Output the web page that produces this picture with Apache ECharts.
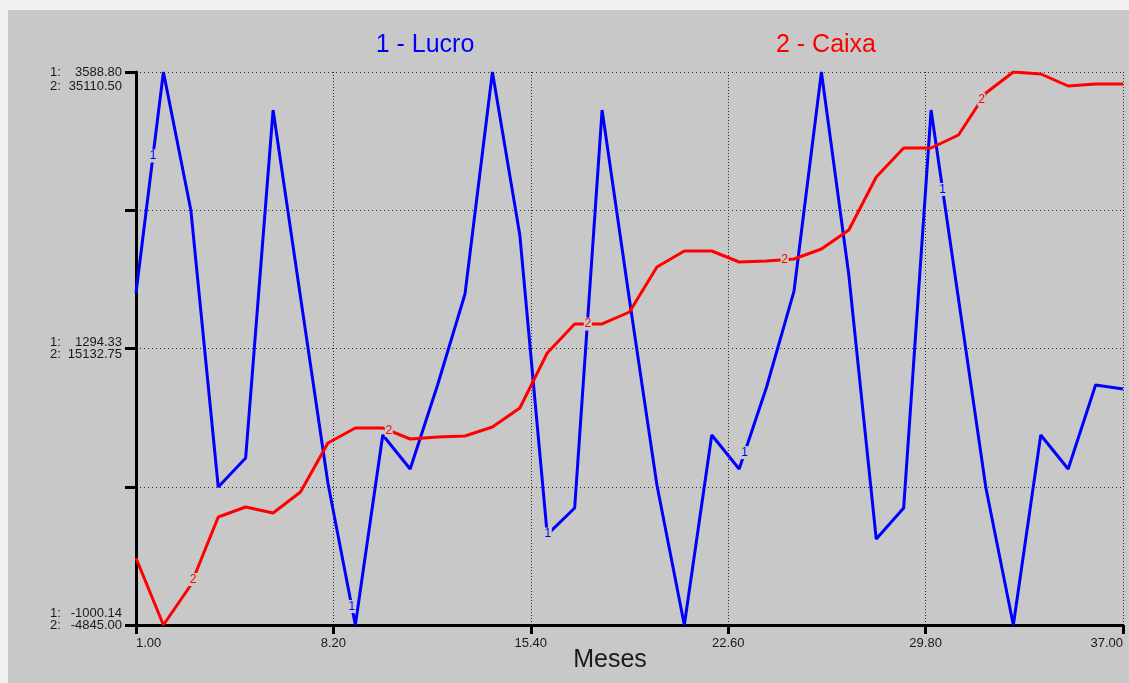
<!DOCTYPE html>
<html>
<head>
<meta charset="utf-8">
<script src="https://cdn.jsdelivr.net/npm/echarts@6/dist/echarts.min.js"></script>
<style>
  html, body { margin: 0; padding: 0; width: 1129px; height: 683px; overflow: hidden; background: #f0f0f0; }
  #chart { position: absolute; left: 8px; top: 10px; width: 1121px; height: 673px; }
</style>
</head>
<body>
<div id="chart"></div>
<script>
// Simulação mensal: lucro e caixa
const meses = [1, 2, 3, 4, 5, 6, 7, 8, 9, 10, 11, 12, 13, 14, 15, 16, 17, 18, 19,
               20, 21, 22, 23, 24, 25, 26, 27, 28, 29, 30, 31, 32, 33, 34, 35, 36, 37];

const lucro = [1755, 3588.80, 2444, 145, 386, 3273, 1722, 178, -1000.14, 577, 294, 991,
               1747, 3588.80, 2236, -250, -29, 3273, 1697, 162, -1000.14, 577, 294, 975,
               1771, 3588.80, 1904, -287, -29, 3273, 1705, 137, -1000.14, 577, 294, 991, 958];

const caixa = [0, -4845.00, -1953, 2959, 3681, 3248, 4765, 8306, 9390, 9390, 8595, 8740,
               8812, 9461, 10834, 14808, 16903, 16903, 17770, 21022, 22178, 22178, 21383, 21455,
               21600, 22322, 23695, 27524, 29620, 29620, 30559, 33593, 35110.50, 34966, 34099, 34244, 34244];

const xTickLabels = ['1.00', '8.20', '15.40', '22.60', '29.80', '37.00'];
const lucroTickLabels = ['-1000.14', '1294.33', '3588.80'];
const caixaTickLabels = ['-4845.00', '15132.75', '35110.50'];
const lucroRange = [-1000.14, 3588.80];
const caixaRange = [-4845.00, 35110.50];

// where the series number tags sit along each curve (in months)
const lucroTagAt = [1.62, 8.87, 16.02, 23.2, 30.42];
const caixaTagAt = [3.08, 10.22, 17.48, 24.66, 31.84];

const FONT = '"Liberation Sans", Arial, sans-serif';
const BG = '#c8c8c8';
const INK = '#1a1a1a';
const BLUE = '#0000ff';
const RED = '#ff0000';

function pairs(ys) { return meses.map((m, i) => [m, ys[i]]); }

function valueAt(ys, t) {
  const i = Math.floor(t) - meses[0];
  const f = t - Math.floor(t);
  if (i >= ys.length - 1) return ys[ys.length - 1];
  return ys[i] + (ys[i + 1] - ys[i]) * f;
}

function tags(ys, times, txt, color) {
  return {
    silent: true,
    animation: false,
    data: times.map(t => ({
      coord: [t, valueAt(ys, t)],
      symbol: 'rect',
      symbolSize: [8, 13],
      itemStyle: { color: BG },
      label: { show: true, position: 'inside', formatter: txt, color: color, fontSize: 12, fontFamily: FONT }
    }))
  };
}

const chart = echarts.init(document.getElementById('chart'), null, { renderer: 'canvas' });

const dotted = (dash) => ({ show: true, lineStyle: { color: '#2a2a2a', width: 1, type: dash } });

chart.setOption({
  animation: false,
  backgroundColor: BG,
  grid: { left: 128, right: 6, top: 62, bottom: 58, containLabel: false },
  xAxis: [
    { type: 'value', min: meses[0], max: meses[meses.length - 1], show: false },
    {
      type: 'value', min: 0, max: xTickLabels.length - 1, interval: 1, position: 'bottom',
      axisLine: { show: true, onZero: false, lineStyle: { color: '#000', width: 3 } },
      axisTick: { show: true, length: 9, lineStyle: { color: '#000', width: 3 } },
      axisLabel: {
        show: true, margin: 12, color: INK, fontSize: 13, fontFamily: FONT,
        alignMinLabel: 'left', alignMaxLabel: 'right',
        formatter: v => xTickLabels[Math.round(v)]
      },
      splitLine: dotted([1, 2])
    }
  ],
  yAxis: [
    { type: 'value', min: lucroRange[0], max: lucroRange[1], show: false },
    { type: 'value', min: caixaRange[0], max: caixaRange[1], show: false },
    {
      type: 'value', min: 0, max: 4, interval: 1, position: 'left', offset: 0,
      axisLine: { show: true, onZero: false, lineStyle: { color: '#000', width: 3 } },
      axisTick: { show: true, length: 11, lineStyle: { color: '#000', width: 3 } },
      axisLabel: { show: false },
      splitLine: dotted([1, 3])
    }
  ],
  series: [
    {
      name: '1 - Lucro', type: 'line', xAxisIndex: 0, yAxisIndex: 0,
      data: pairs(lucro), symbol: 'none', z: 3,
      lineStyle: { color: BLUE, width: 3 }, itemStyle: { color: BLUE },
      markPoint: tags(lucro, lucroTagAt, '1', BLUE)
    },
    {
      name: '2 - Caixa', type: 'line', xAxisIndex: 0, yAxisIndex: 1,
      data: pairs(caixa), symbol: 'none', z: 4,
      lineStyle: { color: RED, width: 3 }, itemStyle: { color: RED },
      markPoint: tags(caixa, caixaTagAt, '2', RED)
    }
  ]
});

// titles and dual-scale labels on the left
const texts = [
  { x: 417, y: 35, text: '1 - Lucro', color: BLUE, size: 25, align: 'center' },
  { x: 818, y: 35, text: '2 - Caixa', color: RED, size: 25, align: 'center' },
  { x: 602, y: 650, text: 'Meses', color: INK, size: 25, align: 'center' }
];

// bottom, middle, top scale labels: offsets of the two lines around the tick
const lineOffsets = [[-12, 0], [-6, 6], [0, 14]];
[0, 1, 2].forEach(k => {
  const yPix = chart.convertToPixel({ yAxisIndex: 2 }, k * 2);
  const [o1, o2] = lineOffsets[k];
  texts.push({ x: 42, y: yPix + o1, text: '1:', color: INK, size: 13, align: 'left' });
  texts.push({ x: 114, y: yPix + o1, text: lucroTickLabels[k], color: INK, size: 13, align: 'right' });
  texts.push({ x: 42, y: yPix + o2, text: '2:', color: INK, size: 13, align: 'left' });
  texts.push({ x: 114, y: yPix + o2, text: caixaTickLabels[k], color: INK, size: 13, align: 'right' });
});

chart.setOption({
  graphic: texts.map(t => ({
    type: 'text', x: t.x, y: t.y, silent: true,
    style: {
      text: t.text, fill: t.color,
      font: t.size + 'px ' + FONT,
      textAlign: t.align, textVerticalAlign: 'middle', verticalAlign: 'middle'
    }
  }))
});
</script>
</body>
</html>
